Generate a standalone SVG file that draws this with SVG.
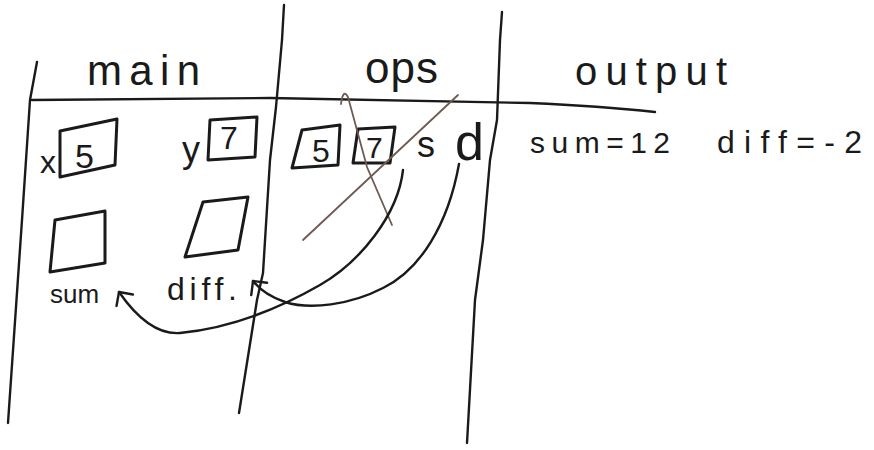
<svg xmlns="http://www.w3.org/2000/svg" width="874" height="450" viewBox="0 0 874 450">
<defs>
<style>
.ln{fill:none;stroke:#1a1a1a;stroke-width:2.4;stroke-linecap:round;stroke-linejoin:round}
.bx{fill:none;stroke:#1a1a1a;stroke-width:3;stroke-linejoin:round}
.cr{fill:none;stroke:#6e5a52;stroke-width:1.8;stroke-linecap:round}
.t{font-family:"Liberation Sans","DejaVu Sans",sans-serif;fill:#1a1a1a}
.ar{fill:none;stroke:#1a1a1a;stroke-width:2.4;stroke-linecap:round}
</style>
<marker id="head" viewBox="0 0 24 24" refX="12" refY="12" markerWidth="24" markerHeight="24" markerUnits="userSpaceOnUse" orient="auto">
<path d="M2,2 L12,12 L2,22" fill="none" stroke="#1a1a1a" stroke-width="2.4" stroke-linecap="round" stroke-linejoin="round"/>
</marker>
</defs>
<rect width="874" height="450" fill="#ffffff"/>
<g id="grid">
<path class="ln" d="M37,62 L30,100 L22,220 L8,423"/>
<path class="ln" d="M284,5 L282,40 L276,107 L270,160 L263,273 L257,300 L239,413"/>
<path class="ln" d="M502,12 L500,40 L497,120 L490,160 L483,240 L475,300 L467,443"/>
<path class="ln" d="M32,100 L270,98 L530,103 Q600,106 655,112"/>
</g>
<g id="head-main"><text class="t" x="87" y="85" font-size="42" textLength="113" lengthAdjust="spacing">main</text></g>
<g id="head-ops"><text class="t" x="365" y="83" font-size="44" textLength="73" lengthAdjust="spacing">ops</text></g>
<g id="head-output"><text class="t" x="575" y="85" font-size="40" textLength="152" lengthAdjust="spacing">output</text></g>
<g id="var-x">
<text class="t" x="40" y="173" font-size="32">x</text>
<polygon class="bx" points="60,131 117,119 115,165 60,177"/>
<text class="t" x="75" y="168" font-size="34">5</text>
</g>
<g id="var-y">
<text class="t" x="182" y="162" font-size="36">y</text>
<polygon class="bx" points="210,120 257,117 255,157 208,160"/>
<text class="t" x="220" y="149" font-size="32">7</text>
</g>
<g id="var-sum">
<polygon class="bx" points="55,220 105,211 105,263 50,272"/>
<text class="t" x="50" y="303" font-size="26">sum</text>
</g>
<g id="var-diff">
<polygon class="bx" points="203,202 248,197 238,250 185,257"/>
<text class="t" x="167" y="300" font-size="32" textLength="70" lengthAdjust="spacing">diff.</text>
</g>
<g id="ops-a">
<polygon class="bx" points="302,130 340,125 338,165 292,168"/>
<text class="t" x="312" y="162" font-size="32">5</text>
</g>
<g id="ops-b">
<polygon class="bx" points="358,129 395,127 390,163 353,163"/>
<text class="t" x="366" y="158" font-size="30">7</text>
</g>
<g id="ops-s"><text class="t" x="417" y="157" font-size="36">s</text></g>
<g id="ops-d"><text class="t" x="455" y="160" font-size="52">d</text></g>
<g id="out-sum"><text class="t" x="530" y="153" font-size="30" textLength="140" lengthAdjust="spacing">sum=12</text></g>
<g id="out-diff"><text class="t" x="717" y="153" font-size="32" textLength="145" lengthAdjust="spacing">diff=-2</text></g>
<g id="crossout">
<path class="cr" d="M458,95 L303,240"/>
<path class="cr" d="M341,104 Q343,88 348,97 L367,167 L392,225"/>
</g>
<g id="connectors">
<path class="ar" marker-end="url(#head)" d="M403,170 C398,215 360,262 320,285 C280,308 230,328 180,333 C155,335 135,315 119,292"/>
<path class="ar" marker-end="url(#head)" d="M459,164 C448,225 420,270 383,288 C350,305 310,310 285,302 C270,297 260,290 253,281"/>
</g>
</svg>
